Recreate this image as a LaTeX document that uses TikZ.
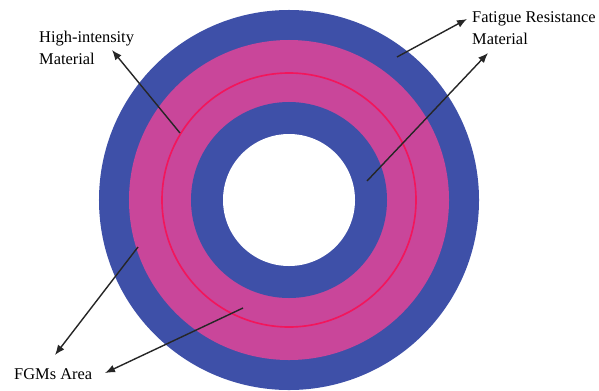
\documentclass[tikz,border=0pt]{standalone}
\usepackage{fontspec}
\setmainfont{Liberation Serif}
\usetikzlibrary{arrows.meta}

\definecolor{ringblue}{RGB}{62,80,168}
\definecolor{ringpink}{RGB}{201,70,154}
\definecolor{ringred}{RGB}{242,22,92}

\begin{document}
\begin{tikzpicture}[x=0.03cm, y=-0.03cm, >={Latex[length=3mm, width=2.4mm]},
    pointer/.style={->, line width=1.2pt, black!85},
    lbl/.style={anchor=north west, align=left, inner sep=0pt, font=\fontsize{14}{18.7}\selectfont}]

        \useasboundingbox (0,0) rectangle (599,390);

        % Rings
        \coordinate (c) at (289,200);
        \fill[ringblue] (c) circle[radius=5.7cm];
        \fill[ringpink] (c) circle[radius=4.8cm];
        \draw[ringred, line width=1.4pt] (c) circle[radius=3.81cm];
        \fill[ringblue] (c) circle[radius=2.94cm];
        \fill[white] (c) circle[radius=1.98cm];

        % Labels
        \node[lbl] (high) at (39,31) {High-intensity\\Material};
        \node[lbl] (fatigue) at (472,11) {Fatigue Resistance\\Material};
        \node[lbl] (fgm) at (14,368) {FGMs Area};

        % Arrow ends
        \coordinate (highIn) at (180,133);
        \coordinate (highTip) at (112,50);
        \coordinate (fatOut) at (397,57);
        \coordinate (fatTipA) at (467,19);
        \coordinate (fatIn) at (367,181);
        \coordinate (fatTipB) at (488,53);
        \coordinate (fgmOut) at (138,247);
        \coordinate (fgmTipA) at (55,355);
        \coordinate (fgmPink) at (243,308);
        \coordinate (fgmTipB) at (105,373);

        % Arrows
        \draw[pointer] (highIn) -- (highTip);
        \draw[pointer] (fatOut) -- (fatTipA);
        \draw[pointer] (fatIn) -- (fatTipB);
        \draw[pointer] (fgmOut) -- (fgmTipA);
        \draw[pointer] (fgmPink) -- (fgmTipB);

    \end{tikzpicture}
\end{document}
